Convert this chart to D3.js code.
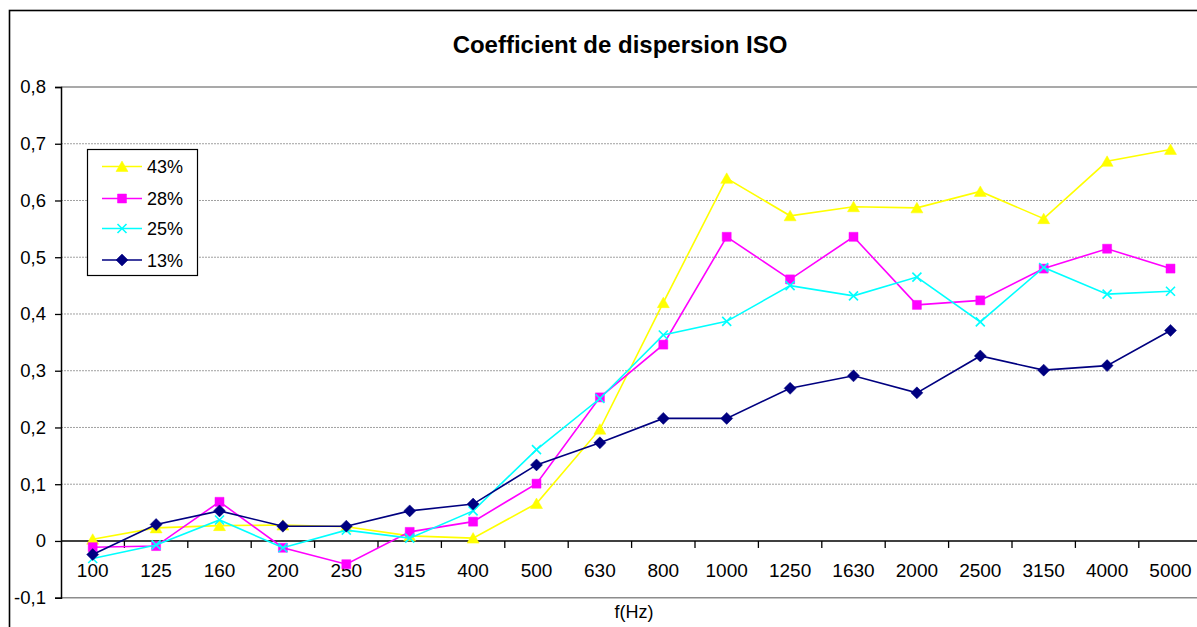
<!DOCTYPE html>
<html>
<head>
<meta charset="utf-8">
<script src="https://cdn.jsdelivr.net/npm/d3@7/dist/d3.min.js"></script>
<style>
  html, body { margin: 0; padding: 0; background: #fff; }
  svg { display: block; font-family: "Liberation Sans", Arial, sans-serif; }
</style>
</head>
<body>
<svg id="chart" width="1197" height="627"></svg>
<script>
// Frequency bands (Hz)
const categories = ["100","125","160","200","250","315","400","500","630","800","1000","1250","1630","2000","2500","3150","4000","5000"];

// Scattering coefficient per band, one array per coverage ratio
const s43 = [0.003, 0.023, 0.027, 0.028, 0.025, 0.009, 0.005, 0.066, 0.197, 0.420, 0.639, 0.573, 0.589, 0.587, 0.616, 0.568, 0.669, 0.690];
const s28 = [-0.011, -0.009, 0.069, -0.012, -0.041, 0.016, 0.034, 0.101, 0.253, 0.346, 0.536, 0.461, 0.536, 0.416, 0.424, 0.480, 0.515, 0.480];
const s25 = [-0.031, -0.007, 0.037, -0.012, 0.019, 0.005, 0.053, 0.161, 0.251, 0.363, 0.387, 0.450, 0.432, 0.465, 0.386, 0.482, 0.435, 0.440];
const s13 = [-0.024, 0.029, 0.053, 0.026, 0.026, 0.053, 0.065, 0.134, 0.173, 0.216, 0.216, 0.269, 0.291, 0.261, 0.326, 0.301, 0.309, 0.371];

const seriesNames = ["43%", "28%", "25%", "13%"];
const yTicks = [-0.1, 0, 0.1, 0.2, 0.3, 0.4, 0.5, 0.6, 0.7, 0.8];

const series = [
  { name: seriesNames[0], values: s43, color: "#FFFF00", symbol: "triangle" },
  { name: seriesNames[1], values: s28, color: "#FF00FF", symbol: "square" },
  { name: seriesNames[2], values: s25, color: "#00FFFF", symbol: "x" },
  { name: seriesNames[3], values: s13, color: "#000080", symbol: "diamond" }
];

const svg = d3.select("#chart");

const plot = { left: 61, top: 87, bottom: 597.7, bandW: 63.4 };
plot.right = plot.left + plot.bandW * categories.length;

const x = d3.scaleBand().domain(categories).range([plot.left, plot.right]).padding(0);
const y = d3.scaleLinear().domain([-0.1, 0.8]).range([plot.bottom, plot.top]);

// Outer chart frame
svg.append("rect")
  .attr("x", 9.5).attr("y", 10.5)
  .attr("width", 1300).attr("height", 700)
  .attr("fill", "#fff").attr("stroke", "#000").attr("stroke-width", 1.6);

// Title
svg.append("text")
  .attr("x", 620).attr("y", 53)
  .attr("text-anchor", "middle")
  .attr("font-weight", "bold")
  .attr("font-size", 24)
  .text("Coefficient de dispersion ISO");

// Horizontal gridlines
svg.append("g")
  .selectAll("line")
  .data(yTicks.filter(t => t !== 0))
  .join("line")
  .attr("x1", plot.left).attr("x2", plot.right)
  .attr("y1", d => y(d)).attr("y2", d => y(d))
  .attr("stroke", d => (d === 0.8 || d === -0.1) ? "#8c8c8c" : "#a0a0a0")
  .attr("stroke-width", d => (d === 0.8 || d === -0.1) ? 1.6 : 1)
  .attr("stroke-dasharray", d => (d === 0.8 || d === -0.1) ? null : "2,1");

// Y axis
const yAxis = d3.axisLeft(y)
  .tickValues(yTicks)
  .tickSize(6)
  .tickPadding(9)
  .tickFormat(d => d3.format(".1f")(d).replace(".", ",").replace("0,0", "0").replace("−", "-"));
const gy = svg.append("g").attr("transform", `translate(${plot.left},0)`).call(yAxis);
gy.select(".domain").attr("stroke", "#000").attr("stroke-width", 1.5);
gy.selectAll(".tick line").attr("stroke", "#000").attr("stroke-width", 1.3);
gy.selectAll(".tick text").attr("font-size", 18.5).attr("fill", "#000")
  .attr("font-family", "'Liberation Sans', Arial, sans-serif");

// X axis at zero, ticks between categories
const gx = svg.append("g").attr("transform", `translate(0,${y(0)})`);
gx.append("line")
  .attr("x1", plot.left).attr("x2", plot.right)
  .attr("stroke", "#000").attr("stroke-width", 1.5);
gx.selectAll(".xt")
  .data(categories.slice(1))
  .join("line")
  .attr("class", "xt")
  .attr("x1", d => x(d)).attr("x2", d => x(d))
  .attr("y1", 0).attr("y2", 7)
  .attr("stroke", "#000").attr("stroke-width", 1.3);
gx.selectAll(".xl")
  .data(categories)
  .join("text")
  .attr("class", "xl")
  .attr("x", d => x(d) + x.bandwidth() / 2)
  .attr("y", 36.5)
  .attr("text-anchor", "middle")
  .attr("font-size", 19)
  .text(d => d);

// X axis title
svg.append("text")
  .attr("x", 634).attr("y", 618)
  .attr("text-anchor", "middle")
  .attr("font-size", 18)
  .text("f(Hz)");

const cx = d => x(d) + x.bandwidth() / 2;
const line = d3.line().x((v, i) => cx(categories[i])).y(v => y(v));

// Marker shapes: filled triangle, square, rotated square, and an "x" cross
function drawMarker(sel, s) {
  let d, filled = true;
  if (s.symbol === "x") {
    const r = 4.5;
    d = `M${-r},${-r}L${r},${r}M${-r},${r}L${r},${-r}`;
    filled = false;
  } else if (s.symbol === "triangle") {
    d = "M0,-5.5L6,5L-6,5Z";
  } else if (s.symbol === "square") {
    d = "M-4.5,-4.5H4.5V4.5H-4.5Z";
  } else {
    d = "M0,-6L6,0L0,6L-6,0Z";
  }
  sel.append("path")
    .attr("d", d)
    .attr("fill", filled ? s.color : "none")
    .attr("stroke", s.color)
    .attr("stroke-width", filled ? 0.5 : 1.6);
}

series.forEach(s => {
  const g = svg.append("g");
  g.append("path")
    .datum(s.values)
    .attr("d", line)
    .attr("fill", "none")
    .attr("stroke", s.color)
    .attr("stroke-width", 1.6);
  g.selectAll("g.m")
    .data(s.values)
    .join("g")
    .attr("class", "m")
    .attr("transform", (v, i) => `translate(${cx(categories[i])},${y(v)})`)
    .each(function () { drawMarker(d3.select(this), s); });
});

// Legend
const lg = svg.append("g");
lg.append("rect")
  .attr("x", 87.5).attr("y", 149.5).attr("width", 110).attr("height", 126)
  .attr("fill", "#fff").attr("stroke", "#000").attr("stroke-width", 1.2);
const legendY = [166.5, 198.5, 228.5, 260];
series.forEach((s, i) => {
  const row = lg.append("g").attr("transform", `translate(0,${legendY[i]})`);
  row.append("line").attr("x1", 102).attr("x2", 142).attr("y1", 0).attr("y2", 0)
    .attr("stroke", s.color).attr("stroke-width", 1.6);
  const m = row.append("g").attr("transform", "translate(122,0)");
  drawMarker(m, s);
  row.append("text").attr("x", 147).attr("y", 6.5).attr("font-size", 18).text(s.name);
});
</script>
</body>
</html>
